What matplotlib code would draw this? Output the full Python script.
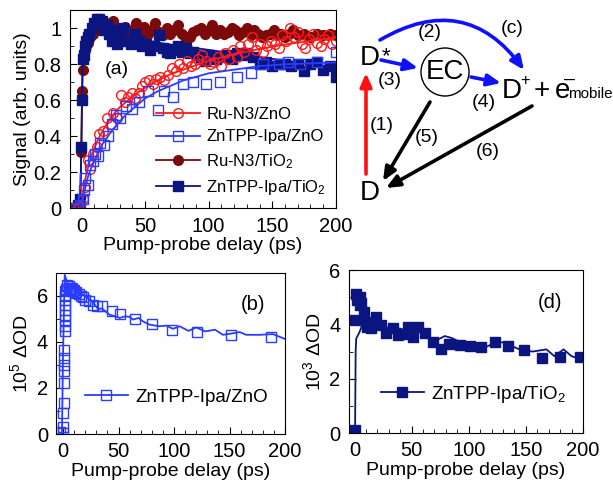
import matplotlib
matplotlib.use("Agg")
import matplotlib.pyplot as plt
from matplotlib.lines import Line2D
from matplotlib.patches import Circle
from matplotlib.ticker import MultipleLocator

plt.rcParams['font.family'] = ['Liberation Sans', 'DejaVu Sans']
plt.rcParams['mathtext.fontset'] = 'custom'
plt.rcParams['mathtext.rm'] = 'Liberation Sans'
plt.rcParams['mathtext.it'] = 'Liberation Sans:italic'

# colours
c_red = '#ff1a1a'
c_blue = '#2a3cff'
c_maroon = '#7d0a0a'
c_navy = '#0b1580'

# ---- panel (a) data ----
ru_zno_t = [-6, -3, -1, 1, 3, 5, 7, 9, 12, 14, 17, 20, 23, 25, 28, 31, 34, 37, 40, 42, 45, 48, 50,
            53, 56, 59, 62, 65, 68, 71, 74, 77, 80, 83, 86, 89, 92, 95, 98, 101, 104, 107, 110, 113,
            116, 119, 122, 125, 128, 131, 134, 137, 140, 143, 146, 149, 152, 155, 158, 161, 164, 167,
            170, 173, 176, 179, 182, 185, 188, 191, 194, 197, 200]
ru_zno_v = [0.0, 0.0, 0.01, 0.05, 0.12, 0.27, 0.22, 0.3, 0.34, 0.41, 0.43, 0.5, 0.47, 0.53, 0.5, 0.63,
            0.59, 0.62, 0.64, 0.61, 0.64, 0.68, 0.7, 0.71, 0.69, 0.72, 0.73, 0.71, 0.74, 0.78, 0.76, 0.8,
            0.78, 0.82, 0.79, 0.8, 0.83, 0.85, 0.82, 0.8, 0.81, 0.84, 0.79, 0.86, 0.83, 0.88, 0.84, 0.9,
            0.87, 0.91, 0.95, 0.88, 0.91, 0.87, 0.9, 0.93, 0.91, 0.89, 0.96, 0.93, 1.0, 0.95, 0.98, 0.91,
            0.89, 0.94, 0.97, 0.92, 0.9, 0.94, 0.96, 0.91, 0.93]
ru_zno_fit_t = [-8, 0, 1, 2, 3, 5, 7, 10, 13, 16, 20, 25, 30, 35, 40, 50, 60, 70, 80, 90, 100, 120, 140, 160, 180, 200]
ru_zno_fit_v = [0.0, 0.0, 0.07, 0.12, 0.16, 0.22, 0.27, 0.33, 0.38, 0.42, 0.47, 0.52, 0.56, 0.59, 0.62, 0.67,
                0.71, 0.745, 0.77, 0.795, 0.82, 0.855, 0.885, 0.91, 0.93, 0.95]

zn_zno_t = [-3, -1, 1, 2, 3, 5, 7, 9, 11, 13, 15, 18, 21, 24, 27, 30, 35, 40, 45, 52, 60, 65, 72, 80,
            88, 98, 109, 122, 133, 143, 155, 162, 172, 185, 200]
zn_zno_v = [0.0, 0.02, 0.05, 0.1, 0.17, 0.13, 0.24, 0.26, 0.3, 0.29, 0.36, 0.35, 0.4, 0.47, 0.52, 0.5,
            0.57, 0.55, 0.59, 0.65, 0.545, 0.65, 0.62, 0.69, 0.7, 0.69, 0.7, 0.73, 0.75, 0.8, 0.8, 0.81,
            0.8, 0.81, 0.87]
zn_zno_fit_t = [-8, 0, 1, 2, 3, 5, 7, 10, 13, 16, 20, 25, 30, 35, 40, 50, 60, 70, 80, 90, 100, 120, 140, 160, 180, 200]
zn_zno_fit_v = [0.0, 0.0, 0.04, 0.08, 0.11, 0.17, 0.21, 0.26, 0.31, 0.35, 0.39, 0.44, 0.48, 0.52, 0.55, 0.61,
                0.65, 0.68, 0.71, 0.73, 0.75, 0.77, 0.79, 0.80, 0.805, 0.81]

ru_tio_t = [-5, -1, 0, 0.5, 1, 2, 3, 4, 5, 7, 9, 11, 13, 15, 17, 19, 22, 25, 28, 31, 34, 37, 40, 43, 46,
            49, 52, 55, 58, 61, 64, 67, 70, 73, 76, 79, 82, 85, 88, 91, 94, 97, 100, 103, 106, 109, 112,
            115, 118, 121, 124, 127, 130, 133, 136, 139, 142, 145, 148, 151, 154, 157, 160, 163, 166,
            170, 175, 180, 185, 190, 195, 200]
ru_tio_v = [0.0, 0.0, 0.31, 0.65, 0.77, 0.86, 0.88, 0.9, 0.92, 0.95, 0.97, 1.0, 1.02, 1.05, 1.0, 1.03,
            0.99, 1.04, 1.0, 0.98, 1.01, 0.97, 0.99, 1.03, 0.98, 1.01, 0.97, 0.99, 1.03, 0.98, 0.96, 1.0,
            0.97, 0.99, 1.02, 0.97, 0.94, 0.95, 0.98, 0.99, 1.0, 0.97, 0.99, 1.02, 0.97, 0.99, 0.97, 0.98,
            1.0, 0.99, 0.96, 0.98, 1.0, 0.96, 0.99, 0.97, 0.95, 0.96, 0.97, 0.99, 0.96, 0.97, 0.95, 0.97,
            0.99, 0.96, 0.97, 0.95, 0.97, 0.96, 0.97, 0.96]
ru_tio_fit_t = [-8, -1, 0, 0.5, 1, 2, 3, 5, 8, 12, 20, 40, 80, 120, 160, 200]
ru_tio_fit_v = [0.0, 0.0, 0.31, 0.6, 0.75, 0.85, 0.89, 0.93, 0.96, 0.98, 0.985, 0.98, 0.975, 0.97, 0.965, 0.96]

zn_tio_t = [-5, -3, -1, 0, 0.5, 1, 2, 3, 4, 5, 6, 8, 10, 12, 14, 16, 18, 20, 22, 24, 26, 28, 30, 33, 36,
            39, 42, 45, 48, 51, 54, 57, 61, 64, 67, 70, 73, 76, 79, 82, 85, 88, 91, 94, 97, 100, 103,
            106, 110, 114, 118, 122, 126, 130, 135, 140, 145, 150, 155, 160, 165, 170, 175, 180, 185,
            190, 195, 200]
zn_tio_v = [0.0, 0.02, 0.05, 0.34, 0.6, 0.83, 0.85, 0.9, 0.93, 0.95, 0.97, 1.0, 1.03, 1.05, 1.05, 1.04,
            0.99, 1.02, 0.97, 0.93, 0.99, 0.91, 0.95, 1.0, 0.93, 0.91, 0.97, 0.93, 0.9, 0.91, 0.88, 0.9,
            0.96, 0.89, 0.87, 0.86, 0.88, 0.9, 0.87, 0.89, 0.86, 0.87, 0.85, 0.84, 0.82, 0.85, 0.84, 0.83,
            0.84, 0.85, 0.83, 0.86, 0.85, 0.86, 0.84, 0.8, 0.81, 0.79, 0.8, 0.8, 0.79, 0.8, 0.76, 0.8,
            0.81, 0.77, 0.79, 0.73]
zn_tio_fit_t = [-8, -1, 0, 0.5, 1, 2, 4, 7, 10, 14, 18, 22, 30, 40, 50, 60, 80, 100, 120, 140, 160, 180, 200]
zn_tio_fit_v = [0.0, 0.0, 0.34, 0.6, 0.83, 0.88, 0.94, 0.98, 1.0, 1.01, 1.0, 0.98, 0.96, 0.945, 0.935, 0.92,
                0.9, 0.88, 0.86, 0.84, 0.82, 0.8, 0.785]

# ---- panel (b) data: ZnTPP-Ipa/ZnO ----
b_pts_t = [-3, 0, 0, 0, 0.5, 0.5, 0.5, 1, 1, 1, 1.5, 1.5, 1.5, 1.5, 2, 2, 2, 2, 2,
           3, 4, 5, 6, 7, 8, 9, 10, 11, 12, 14, 16, 18, 20, 23, 27, 31, 35, 44, 51, 65, 80, 98, 121, 151, 187]
b_pts_v = [0.1, 0.05, 0.3, 0.9, 1.33, 2.2, 2.75, 3.0, 3.3, 3.65, 4.46, 4.7, 4.93, 5.15, 5.37, 5.59, 5.8,
           6.0, 6.2, 6.3, 6.45, 6.4, 6.35, 6.3, 6.35, 6.2, 6.25, 6.1, 6.15, 6.05, 6.0, 5.95, 5.8, 5.75,
           5.6, 5.55, 5.54, 5.32, 5.2, 5.0, 4.77, 4.52, 4.42, 4.3, 4.2]
b_line_t = [-6, -1, 0, 1.5, 4.5, 8, 13, 20, 26, 32, 35, 38, 42, 47, 51, 56, 60, 63, 68, 72, 78, 87,
            93, 99, 105, 113, 120, 128, 137, 144, 151, 159, 165, 177, 189, 200]
b_line_v = [0.0, 0.0, 3.5, 6.9, 6.45, 6.35, 6.2, 5.97, 5.75, 5.4, 5.45, 5.32, 5.17, 5.1, 5.03, 5.1, 5.08,
            4.96, 5.03, 4.88, 4.74, 4.67, 4.7, 4.56, 4.67, 4.47, 4.62, 4.45, 4.52, 4.3, 4.35, 4.42, 4.3,
            4.3, 4.33, 4.12]

# ---- panel (d) data: ZnTPP-Ipa/TiO2 ----
d_pts_t = [0, 0, 1.5, 2, 4.4, 5, 6, 7.9, 10, 11, 14.6, 19, 23, 28, 34, 38, 42, 47, 51, 56, 62, 69, 76,
           83, 92, 101, 111, 123, 134, 148, 164, 180, 197]
d_pts_v = [0.1, 4.15, 5.13, 4.9, 4.7, 5.0, 4.8, 4.46, 4.1, 3.9, 3.85, 4.28, 3.97, 3.69, 3.85, 3.6, 3.66,
           3.91, 3.52, 3.91, 3.69, 3.36, 3.08, 3.27, 3.24, 3.2, 3.17, 3.36, 3.21, 3.05, 2.75, 2.8, 2.8]
d_line_t = [-5, 0.5, 1, 1.5, 4.4, 7, 10, 13, 16, 19, 22, 25, 28, 31, 35, 40, 45, 50, 54, 60, 66, 72, 79,
            85, 95, 104, 114, 122, 133, 139, 146, 156, 168, 175, 183, 190, 200]
d_line_v = [0.1, 0.1, 3.0, 3.48, 3.72, 4.0, 3.9, 4.1, 3.85, 4.05, 3.8, 4.1, 3.75, 4.03, 3.8, 3.85, 3.75,
            3.8, 3.67, 3.79, 3.5, 3.42, 3.57, 3.5, 3.3, 3.25, 3.15, 3.3, 3.36, 3.18, 3.05, 3.0, 3.08,
            2.83, 3.08, 2.83, 2.7]

legend_a = ['Ru-N3/ZnO', 'ZnTPP-Ipa/ZnO', 'Ru-N3/TiO$_2$', 'ZnTPP-Ipa/TiO$_2$']

fig = plt.figure(figsize=(6.13, 4.91), dpi=100)


def style_axis(ax, xmin, ymax, ymajor, yminor):
    ax.set_xlim(xmin, 200)
    ax.set_ylim(0, ymax)
    ax.xaxis.set_major_locator(MultipleLocator(50))
    ax.xaxis.set_minor_locator(MultipleLocator(10))
    ax.yaxis.set_major_locator(MultipleLocator(ymajor))
    ax.yaxis.set_minor_locator(MultipleLocator(yminor))
    ax.tick_params(which='both', direction='in', top=False, right=False, labelsize=14.5)
    ax.tick_params(which='major', length=5, pad=6)
    ax.tick_params(which='minor', length=3)
    ax.set_xlabel('Pump-probe delay (ps)', fontsize=14, labelpad=1)


# panel (a)
ax = fig.add_axes([0.114, 0.576, 0.434, 0.403])
ms = 7
ax.plot(ru_tio_fit_t, ru_tio_fit_v, color=c_maroon, lw=1.3)
ax.plot(ru_tio_t, ru_tio_v, 'o', color=c_maroon, ms=ms)
ax.plot(zn_tio_fit_t, zn_tio_fit_v, color=c_navy, lw=1.3)
ax.plot(zn_tio_t, zn_tio_v, 's', color=c_navy, ms=ms)
ax.plot(ru_zno_fit_t, ru_zno_fit_v, color=c_red, lw=1.3)
ax.plot(ru_zno_t, ru_zno_v, 'o', mfc='none', mec=c_red, mew=1, ms=ms)
ax.plot(zn_zno_fit_t, zn_zno_fit_v, color=c_blue, lw=1.3)
ax.plot(zn_zno_t, zn_zno_v, 's', mfc='none', mec=c_blue, mew=1, ms=ms)
style_axis(ax, -9, 1.1, 0.2, 0.1)
ax.set_yticks([0, 0.2, 0.4, 0.6, 0.8, 1.0])
ax.set_yticklabels(['0', '0.2', '0.4', '0.6', '0.8', '1'])
ax.set_ylabel('Signal (arb. units)', fontsize=14, labelpad=2)
ax.text(0.13, 0.68, '(a)', transform=ax.transAxes, fontsize=14)
handles = [
    Line2D([], [], color=c_red, marker='o', mfc='none', mec=c_red, ms=ms, lw=1.3),
    Line2D([], [], color=c_blue, marker='s', mfc='none', mec=c_blue, ms=ms, lw=1.3),
    Line2D([], [], color=c_maroon, marker='o', ms=ms, lw=1.3),
    Line2D([], [], color=c_navy, marker='s', ms=ms, lw=1.3),
]
ax.legend(handles, legend_a, loc='lower right', bbox_to_anchor=(1.02, -0.02), frameon=False,
          fontsize=12, handlelength=2.6, handletextpad=0.4, labelspacing=0.45)

# panel (b)
axb = fig.add_axes([0.092, 0.116, 0.373, 0.329])
axb.plot(b_line_t, b_line_v, color=c_blue, lw=1.3)
axb.plot(b_pts_t, b_pts_v, 's', mfc='none', mec=c_blue, mew=1, ms=ms)
style_axis(axb, -6, 7, 2, 1)
axb.set_ylabel('10$^5$ ΔOD', fontsize=14, labelpad=4)
axb.text(0.86, 0.77, '(b)', transform=axb.transAxes, fontsize=14.5, ha='center')
axb.legend([Line2D([], [], color=c_blue, marker='s', mfc='none', mec=c_blue, ms=ms, lw=1.3)],
           ['ZnTPP-Ipa/ZnO'], loc='lower right', bbox_to_anchor=(1.0, 0.07), frameon=False,
           fontsize=13.5, handlelength=2.3, handletextpad=0.4)

# panel (d)
axd = fig.add_axes([0.569, 0.118, 0.382, 0.332])
axd.plot(d_line_t, d_line_v, color=c_navy, lw=1.3)
axd.plot(d_pts_t, d_pts_v, 's', color=c_navy, ms=ms)
style_axis(axd, -5, 6, 2, 1)
axd.set_ylabel('10$^3$ ΔOD', fontsize=14, labelpad=4)
axd.text(0.86, 0.77, '(d)', transform=axd.transAxes, fontsize=14.5, ha='center')
axd.legend([Line2D([], [], color=c_navy, marker='s', ms=ms, lw=1.3)],
           ['ZnTPP-Ipa/TiO$_2$'], loc='lower right', bbox_to_anchor=(1.0, 0.07), frameon=False,
           fontsize=13.5, handlelength=2.3, handletextpad=0.4)

# reaction scheme, drawn in pixel coordinates of the figure
sk = fig.add_axes([0, 0, 1, 1], facecolor='none')
sk.set_xlim(0, 613)
sk.set_ylim(491, 0)
sk.axis('off')


def arrow(p0, p1, color, rad=0.0):
    sk.annotate('', xy=p1, xytext=p0,
                arrowprops=dict(arrowstyle='-|>,head_length=0.8,head_width=0.35', color=color, lw=2.6,
                                shrinkA=0, shrinkB=0, connectionstyle='arc3,rad=%s' % rad))


sk.text(370, 65, 'D', fontsize=20, ha='center', va='baseline')
sk.text(386, 62, '*', fontsize=16, ha='center', va='baseline')
sk.text(370, 200, 'D', fontsize=20, ha='center', va='baseline')
sk.add_patch(Circle((445, 72), 24, fill=False, lw=1.0, color='black'))
sk.text(445, 72, 'EC', fontsize=20, ha='center', va='center')
# D+ + e-(mobile)
sk.text(512, 98, 'D', fontsize=20, ha='center', va='baseline')
sk.text(525, 85, '+', fontsize=12, ha='center', va='baseline')
sk.text(542, 98, '+', fontsize=20, ha='center', va='baseline')
sk.text(563, 98, 'e', fontsize=20, ha='center', va='baseline')
sk.text(569, 84, '\u2013', fontsize=14, ha='center', va='baseline')
sk.text(568, 98, 'mobile', fontsize=11, ha='left', va='baseline')

arrow((366, 174), (366, 73), '#ff1010')
arrow((380, 40), (524, 70), '#1010ff', rad=-0.45)
arrow((381, 60), (418, 68), '#1010ff')
arrow((471, 77), (501, 83), '#1010ff')
arrow((430, 102), (383, 181), 'black')
arrow((532, 106), (386, 188), 'black')

for lbl, x, y in [('(1)', 382, 125), ('(2)', 430, 32), ('(3)', 390, 80), ('(4)', 484, 102),
                  ('(5)', 427, 137), ('(6)', 488, 152), ('(c)', 512, 28)]:
    sk.text(x, y, lbl, fontsize=14, ha='center', va='center')

fig.savefig('out.png', dpi=100)
